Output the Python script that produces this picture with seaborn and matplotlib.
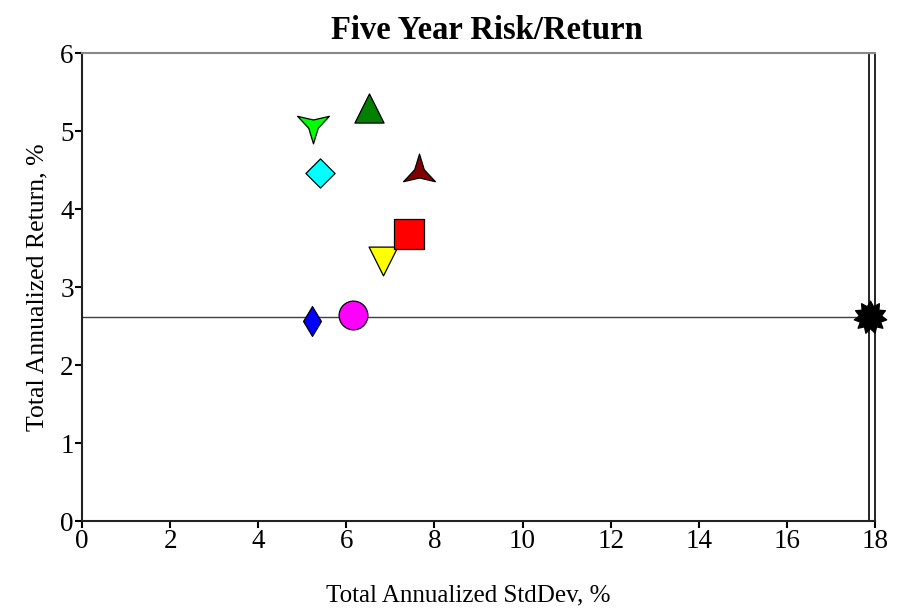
import numpy as np
import pandas as pd
import matplotlib
matplotlib.use("Agg")
import matplotlib.pyplot as plt
from matplotlib.path import Path
import seaborn as sns

# ---- data ----
names = ["A", "B", "C", "D", "E", "F", "G", "H", "I"]
stddev = [5.22, 6.15, 6.83, 7.42, 5.40, 5.24, 6.51, 7.65, 17.88]
ret = [2.56, 2.64, 3.33, 3.68, 4.46, 5.08, 5.29, 4.48, 2.62]
colors = ["#0000FF", "#FF00FF", "#FFFF00", "#FF0000", "#00FFFF",
          "#00FF00", "#008000", "#800000", "#000000"]
bench_x = 17.86
bench_y = 2.62
xticks = list(range(0, 19, 2))
yticks = list(range(0, 7))


def star(n, up=True, inner=0.4):
    verts = []
    base = 90 if up else -90
    step = 360.0 / n
    for k in range(n):
        a = np.deg2rad(base + step * k)
        verts.append((np.cos(a), np.sin(a)))
        b = np.deg2rad(base + step * k + step / 2)
        verts.append((inner * np.cos(b), inner * np.sin(b)))
    verts.append(verts[0])
    codes = [Path.MOVETO] + [Path.LINETO] * (len(verts) - 2) + [Path.CLOSEPOLY]
    return Path(verts, codes)


marker_list = ["d", "o", "v", "s", "D", star(3, False, 0.3), "^",
               star(3, True, 0.3), star(11, True, 0.68)]
size_list = [230, 430, 430, 440, 220, 700, 440, 700, 560]

df = pd.DataFrame({"name": names, "x": stddev, "y": ret})

sns.set_style("white")
plt.rcParams["font.family"] = ["Liberation Serif", "DejaVu Serif"]
plt.rcParams["text.color"] = "black"
plt.rcParams["axes.labelcolor"] = "black"
plt.rcParams["xtick.color"] = "black"
plt.rcParams["ytick.color"] = "black"

fig = plt.figure(figsize=(9.05, 6.08), dpi=100)
ax = fig.add_axes([0.0906, 0.143, 0.8763, 0.7698])

ax.axhline(bench_y, xmin=0, xmax=bench_x / 18, color="#404040", lw=1, zorder=1)
ax.axvline(bench_x, color="black", lw=1.2, zorder=1)

for i in range(len(names)):
    sub = df.iloc[[i]]
    sns.scatterplot(data=sub, x="x", y="y", ax=ax, marker=marker_list[i],
                    s=size_list[i], color=colors[i], edgecolor="black",
                    linewidth=0.9, zorder=3, legend=False, clip_on=False)

ax.set_xlim(0, 18)
ax.set_ylim(0, 6)
ax.set_xticks(xticks)
ax.set_yticks(yticks)
ax.tick_params(axis="both", which="major", direction="out", length=5, width=1.5,
               labelsize=19.5, color="black", left=True, bottom=True, pad=1)
for s in ["left", "bottom"]:
    ax.spines[s].set_color("#222222")
    ax.spines[s].set_linewidth(1.5)
ax.spines["right"].set_color("black")
ax.spines["right"].set_linewidth(1.2)
ax.spines["top"].set_color("#888888")
ax.spines["top"].set_linewidth(1.5)

ax.set_xlabel("Total Annualized StdDev, %", fontsize=18, labelpad=20)
ax.xaxis.set_label_coords(0.487, -0.135)
ax.set_ylabel("Total Annualized Return, %", fontsize=18.5, labelpad=8)
ax.set_title("Five Year Risk/Return", fontsize=23.5, fontweight="bold", pad=10,
             x=0.51)

fig.savefig("out.png", dpi=100)
